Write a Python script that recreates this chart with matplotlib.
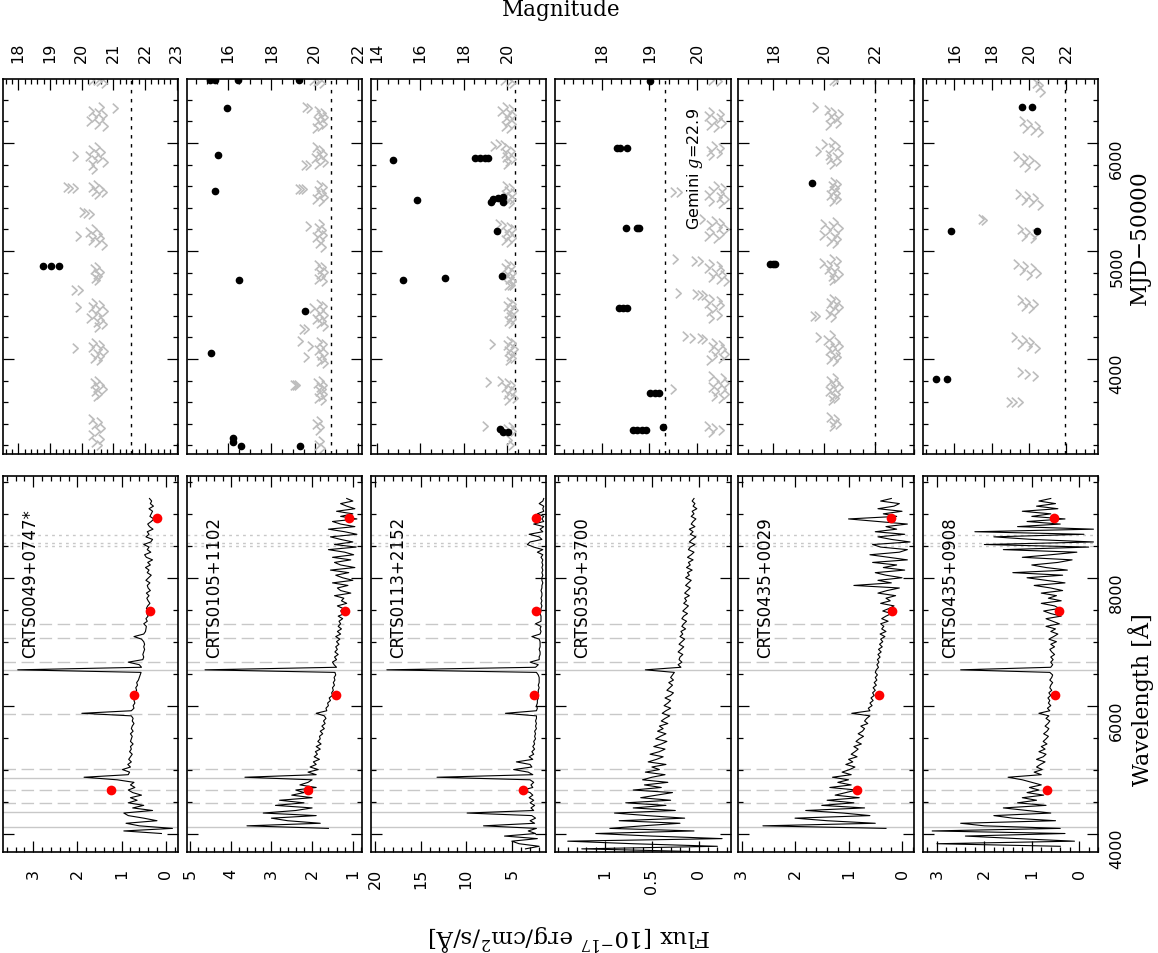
import numpy as np
import matplotlib.pyplot as plt
from matplotlib.path import Path
from matplotlib.ticker import MultipleLocator, FixedLocator, FuncFormatter

plt.rcParams['mathtext.fontset'] = 'dejavuserif'

W, H = 1158, 954

names = ["CRTS0049+0747*", "CRTS0105+1102", "CRTS0113+2152",
         "CRTS0350+3700", "CRTS0435+0029", "CRTS0435+0908"]

# ---- spectra (flux in 1e-17 erg/cm2/s/A), sampled every 40 A from 3720 A
wave = np.arange(3720, 9281, 40)
nan = np.nan

flux1 = [nan, nan, nan, nan, nan, nan, nan, 0.1, 0.95, -0.15,
         0.6, 0.9, 0.2, 0.5, 0.85, 0.95, 0.3, 0.75, 0.5, 0.85,
         0.65, 0.8, 0.55, 0.75, 0.85, 0.7, 0.8, 0.72, 1.1, 1.85,
         0.85, 0.82, 0.98, 0.8, 0.86, 0.78, 0.84, 0.8, 0.76, 0.82,
         0.78, 0.8, 0.74, 0.8, 0.78, 0.76, 0.8, 0.74, 0.78, 0.76,
         0.72, 0.76, 0.74, 0.78, 1.9, 0.78, 0.72, 0.74, 0.7, 0.72,
         0.68, 0.72, 0.7, 0.66, 0.68, 0.64, 0.66, 0.62, 0.6, 0.58,
         0.56, 3.35, 0.55, 0.6, 0.85, 0.52, 0.5, 0.52, 0.5, 0.48,
         0.5, 0.48, 0.5, 0.55, 0.72, 0.5, 0.46, 0.45, 0.44, 0.5,
         0.42, 0.45, 0.4, 0.43, 0.38, 0.44, 0.41, 0.36, 0.4, 0.43,
         0.38, 0.44, 0.35, 0.4, 0.42, 0.36, 0.45, 0.39, 0.33, 0.42,
         0.38, 0.46, 0.35, 0.41, 0.3, 0.44, 0.48, 0.34, 0.42, 0.38,
         0.5, 0.34, 0.3, 0.45, 0.38, 0.42, 0.29, 0.37, 0.41, 0.33,
         0.27, 0.36, 0.33, 0.3, 0.38, 0.28, 0.35, 0.32, 0.37, nan]

flux2 = [nan, nan, nan, nan, nan, nan, nan, nan, nan, 1.6,
         3.6, 1.8, 2.6, 3.0, 1.9, 3.2, 2.4, 2.0, 2.9, 2.2,
         2.8, 2.0, 2.5, 2.2, 2.4, 1.9, 2.3, 2.1, 2.0, 3.65,
         1.9, 2.1, 1.85, 2.05, 1.9, 1.97, 1.82, 1.95, 1.87, 1.92,
         1.8, 1.9, 1.78, 1.86, 1.8, 1.82, 1.74, 1.8, 1.7, 1.76,
         1.68, 1.72, 1.66, 1.7, 1.9, 1.64, 1.66, 1.6, 1.62, 1.55,
         1.58, 1.5, 1.52, 1.48, 1.5, 1.45, 1.48, 1.44, 1.46, 1.42,
         1.44, 4.63, 1.4, 1.46, 1.5, 1.4, 1.45, 1.36, 1.44, 1.38,
         1.42, 1.34, 1.4, 1.32, 1.42, 1.3, 1.38, 1.28, 1.36, 1.3,
         1.34, 1.25, 1.36, 1.2, 1.3, 1.24, 1.38, 1.15, 1.28, 1.22,
         1.45, 1.05, 1.3, 1.38, 1.12, 1.5, 1.0, 1.25, 1.42, 1.1,
         1.55, 0.95, 1.3, 1.45, 1.05, 1.5, 0.98, 1.2, 1.6, 0.92,
         1.45, 1.0, 1.3, 1.55, 0.9, 1.2, 1.6, 0.95, 1.3, 1.5,
         0.9, 1.3, 1.0, 1.4, 0.95, 1.15, 1.3, 1.0, 1.15, nan]

flux3 = [nan, 3.5, 2.0, 4.2, 5.0, 2.2, 5.8, 2.4, 3.2, 2.3,
         8.1, 2.5, 3.0, 2.4, 2.8, 9.9, 2.6, 2.9, 2.5, 3.0,
         2.6, 3.1, 2.7, 3.0, 3.8, 2.7, 2.9, 2.6, 3.0, 13.2,
         2.7, 3.2, 4.8, 2.8, 3.0, 4.5, 2.7, 3.1, 2.6, 2.8,
         2.5, 2.7, 2.5, 2.6, 2.4, 2.5, 2.4, 2.5, 2.3, 2.4,
         2.3, 2.4, 2.3, 2.3, 5.7, 2.3, 2.2, 2.3, 2.2, 2.2,
         2.1, 2.2, 2.1, 2.1, 2.0, 2.1, 2.0, 2.0, 2.0, 2.1,
         2.3, 18.7, 2.4, 2.1, 3.0, 2.0, 2.0, 1.9, 1.9, 2.0,
         1.9, 1.9, 1.9, 2.0, 2.8, 1.9, 1.8, 1.9, 1.8, 2.4,
         1.8, 1.8, 1.8, 1.9, 1.8, 1.8, 1.7, 1.8, 1.7, 1.8,
         1.7, 1.7, 1.8, 1.7, 1.7, 1.6, 1.7, 1.7, 1.6, 1.7,
         1.6, 1.7, 1.6, 1.7, 1.6, 1.8, 1.6, 2.2, 1.6, 2.6,
         3.3, 3.0, 1.7, 2.0, 3.1, 1.6, 1.9, 1.5, 2.6, 1.5,
         1.7, 1.5, 2.2, 1.5, 1.6, 1.5, 2.0, 1.6, 1.5, nan]

flux4 = [0.1, 1.25, -0.2, 0.7, 1.4, -0.25, 0.5, 1.1, 0.05, 0.95,
         0.6, 0.2, 0.85, 0.15, 0.55, 0.9, 0.25, 0.7, 0.35, 0.78,
         0.3, 0.62, 0.45, 0.28, 0.7, 0.4, 0.58, 0.33, 0.6, 0.5,
         0.36, 0.57, 0.42, 0.5, 0.35, 0.54, 0.45, 0.38, 0.52, 0.42,
         0.36, 0.48, 0.4, 0.34, 0.46, 0.41, 0.35, 0.44, 0.38, 0.42,
         0.33, 0.4, 0.36, 0.31, 0.39, 0.35, 0.3, 0.37, 0.33, 0.3,
         0.36, 0.3, 0.27, 0.34, 0.31, 0.28, 0.32, 0.27, 0.3, 0.28,
         0.26, 0.57, 0.19, 0.22, 0.18, 0.21, 0.2, 0.17, 0.22, 0.19,
         0.16, 0.21, 0.18, 0.15, 0.2, 0.17, 0.19, 0.14, 0.18, 0.16,
         0.13, 0.18, 0.16, 0.12, 0.17, 0.14, 0.11, 0.16, 0.13, 0.15,
         0.1, 0.15, 0.12, 0.09, 0.14, 0.11, 0.08, 0.14, 0.1, 0.12,
         0.07, 0.13, 0.09, 0.11, 0.06, 0.12, 0.08, 0.05, 0.11, 0.09,
         0.04, 0.1, 0.07, 0.03, 0.09, 0.06, 0.1, 0.04, 0.08, 0.06,
         0.03, 0.08, 0.05, 0.07, 0.02, 0.06, 0.04, 0.07, 0.05, nan]

flux5 = [nan, nan, nan, nan, nan, nan, nan, nan, nan, 0.3,
         2.6, 0.5, 1.4, 2.0, 0.6, 1.1, 1.8, 0.7, 1.5, 0.9,
         1.4, 0.8, 1.25, 1.05, 0.85, 1.35, 0.95, 1.2, 1.0, 1.3,
         0.95, 1.12, 0.98, 0.88, 1.05, 0.92, 1.0, 0.84, 0.95, 0.88,
         0.82, 0.9, 0.76, 0.86, 0.8, 0.72, 0.82, 0.74, 0.7, 0.77,
         0.64, 0.7, 0.66, 0.6, 0.94, 0.6, 0.63, 0.56, 0.6, 0.54,
         0.58, 0.52, 0.55, 0.5, 0.54, 0.48, 0.52, 0.47, 0.5, 0.46,
         0.5, 0.48, 0.44, 0.47, 0.43, 0.46, 0.41, 0.45, 0.39, 0.44,
         0.37, 0.42, 0.36, 0.4, 0.32, 0.41, 0.3, 0.38, 0.34, 0.4,
         0.26, 0.38, 0.3, 0.2, 0.36, 0.24, 0.15, 0.4, 0.22, 0.3,
         0.12, 0.45, 0.28, 0.05, 0.9, 0.2, 0.45, 0.0, 0.3, 0.5,
         -0.05, 0.35, 0.1, 0.55, -0.1, 0.25, 0.6, 0.05, -0.1, 0.4,
         0.55, -0.15, 0.2, 0.45, -0.05, 0.5, 0.1, 0.3, -0.1, 0.45,
         1.0, 0.1, 0.35, 0.0, 0.45, 0.15, 0.05, 0.4, 0.2, nan]

flux6 = [nan, nan, 0.4, 3.0, 0.1, 1.3, 2.4, 0.3, 3.1, 0.4,
         2.0, 2.5, 0.5, 1.4, 1.8, 0.6, 1.1, 1.6, 0.7, 1.3,
         0.9, 1.2, 0.75, 1.1, 0.85, 1.05, 0.8, 1.0, 1.2, 1.5,
         0.8, 0.95, 0.78, 0.9, 0.82, 0.72, 0.9, 0.76, 0.7, 0.85,
         0.72, 0.8, 0.68, 0.76, 0.7, 0.65, 0.75, 0.68, 0.64, 0.72,
         0.66, 0.62, 0.7, 0.64, 0.85, 0.62, 0.67, 0.6, 0.65, 0.62,
         0.66, 0.6, 0.64, 0.58, 0.62, 0.6, 0.56, 0.62, 0.58, 0.56,
         0.62, 2.5, 0.6, 0.56, 0.6, 0.55, 0.6, 0.52, 0.58, 0.62,
         0.52, 0.6, 0.48, 0.64, 0.54, 0.45, 0.6, 0.5, 0.7, 0.42,
         0.56, 0.7, 0.38, 0.6, 0.75, 0.42, 0.52, 0.8, 0.38, 0.65,
         0.48, 0.8, 0.35, 0.6, 0.95, 0.3, 0.7, 1.1, 0.35, 1.4,
         0.25, 0.7, 1.0, 0.45, 0.15, 1.2, 0.6, 0.05, 1.6, -0.2,
         2.0, -0.3, 1.0, 1.8, -0.1, 2.2, -0.3, 1.3, 0.4, 1.1,
         0.3, 1.0, 0.6, 1.2, 0.45, 0.9, 0.5, 0.85, 0.6, nan]

# SDSS g r i z photometry converted to flux
phot_wave = [4686, 6166, 7480, 8932]
phot1 = [1.23, 0.72, 0.36, 0.2]
phot2 = [2.1, 1.41, 1.2, 1.1]
phot3 = [3.72, 2.62, 2.36, 2.3]
phot4 = []
phot5 = [0.84, 0.43, 0.19, 0.21]
phot6 = [0.68, 0.51, 0.42, 0.53]

balmer = [4102, 4340, 4861, 6563]
helium = [4471, 4686, 5015, 5876, 6678, 7065, 7281]
calcium = [8498, 8542, 8662]

# ---- CRTS light curves (MJD-50000, mag)
det1_mjd = [4864, 4864, 4864]
det1_mag = [18.79, 19.05, 19.29]
lim1_mjd = [6585, 6575, 6560, 6580,
            6330, 6300, 6280, 6260, 6240, 6220, 6200, 6180, 6160, 6320,
            5960, 5940, 5920, 5900, 5880, 5860, 5840, 5820, 5800, 5880, 5760,
            5610, 5590, 5575, 5560, 5545, 5530, 5590, 5585, 5580, 5360, 5350, 5345,
            5200, 5180, 5160, 5140, 5120, 5100, 5080, 5060, 5140,
            4850, 4830, 4810, 4790, 4770, 4750, 4730, 4640, 4635,
            4520, 4500, 4480, 4460, 4440, 4420, 4400, 4380, 4360, 4340, 4320, 4480, 4300,
            4150, 4130, 4110, 4090, 4070, 4050, 4030, 4010, 3990, 4100,
            3800, 3780, 3760, 3740, 3720, 3700, 3680, 3660,
            3440, 3420, 3400, 3360, 3330, 3300, 3260, 3230, 3200]
lim1_mag = [20.3, 20.55, 20.7, 20.45,
            20.6, 20.3, 20.5, 20.7, 20.4, 20.6, 20.25, 20.5, 20.75, 21.05,
            20.5, 20.3, 20.65, 20.45, 20.2, 20.55, 20.4, 20.75, 20.3, 19.8, 20.4,
            20.45, 20.3, 20.6, 20.4, 20.7, 20.5, 19.5, 19.65, 19.8, 20.0, 20.15, 20.3,
            20.4, 20.2, 20.55, 20.35, 20.6, 20.3, 20.5, 20.7, 19.9,
            20.5, 20.35, 20.6, 20.45, 20.55, 20.4, 20.5, 19.75, 19.95,
            20.4, 20.6, 20.3, 20.5, 20.75, 20.4, 20.55, 20.25, 20.6, 20.45, 20.7, 19.9, 20.5,
            20.4, 20.6, 20.3, 20.55, 20.75, 20.45, 20.6, 20.35, 20.55, 19.8,
            20.5, 20.35, 20.6, 20.45, 20.7, 20.4, 20.55, 20.45,
            20.3, 20.55, 20.4, 20.65, 20.5, 20.3, 20.6, 20.4, 20.55]

det2_mjd = [6585, 6585, 6585, 6585, 6324, 5889, 5559, 4731, 4441, 4056, 3265, 3234, 3192, 3197]
det2_mag = [15.15, 15.38, 16.46, 19.26, 15.93, 15.54, 15.38, 16.51, 19.54, 15.19, 16.23, 16.23, 16.6, 19.3]
lim2_mjd = [6588, 6580, 6570, 6560,
            6330, 6320, 6300, 6280, 6260, 6240, 6220, 6200, 6180, 6160, 6140,
            5960, 5940, 5920, 5900, 5880, 5860, 5840, 5820, 5800, 5800, 5810,
            5610, 5590, 5570, 5570, 5570, 5560, 5540, 5520, 5500, 5480, 5460,
            5250, 5230, 5210, 5190, 5170, 5150, 5130, 5100, 5070, 5040,
            4870, 4850, 4830, 4810, 4790, 4770, 4740, 4720,
            4510, 4490, 4470, 4450, 4430, 4410, 4390, 4370, 4350, 4330, 4310, 4280, 4280,
            4170, 4160, 4140, 4120, 4100, 4080, 4060, 4040, 4020, 4000, 3980, 3960,
            3800, 3780, 3760, 3755, 3755, 3755, 3740, 3720, 3700, 3680, 3660, 3640, 3620,
            3430, 3400, 3370, 3340, 3240, 3200, 3180]
lim2_mag = [19.9, 20.2, 20.05, 20.35,
            19.55, 19.75, 20.1, 20.4, 20.2, 20.5, 20.3, 20.05, 20.45, 20.25, 20.0,
            20.0, 20.3, 20.15, 20.45, 20.2, 19.95, 20.35, 20.5, 19.5, 19.7, 20.1,
            20.2, 20.45, 19.22, 19.35, 19.5, 20.1, 20.4, 20.2, 20.5, 20.0, 20.3,
            20.3, 19.7, 20.1, 20.4, 20.2, 20.45, 20.0, 20.3, 20.15, 20.4,
            20.1, 20.4, 20.25, 20.5, 20.2, 20.35, 20.1, 20.45,
            20.2, 20.45, 19.9, 20.3, 20.1, 20.5, 20.25, 20.0, 20.4, 20.2, 20.5, 19.4, 19.6,
            19.3, 20.2, 20.45, 19.8, 20.3, 20.1, 20.5, 20.25, 19.6, 20.4, 20.2, 20.5,
            20.3, 20.05, 20.45, 18.98, 19.1, 19.2, 20.2, 20.4, 20.15, 20.45, 20.3, 20.1, 20.4,
            20.2, 20.0, 20.3, 20.15, 20.3, 20.1, 20.35]

det3_mjd = [5845, 5858, 5858, 5858, 5858, 5475, 5457, 5481, 5490, 5500, 5457, 5182,
            4731, 4747, 4766, 3352, 3327, 3321]
det3_mag = [14.77, 18.54, 18.77, 19.0, 19.15, 15.87, 19.27, 19.38, 19.61, 19.81, 19.84, 19.54,
            15.2, 17.15, 19.77, 19.69, 19.81, 20.07]
lim3_mjd = [6585, 6575, 6560,
            6335, 6315, 6300, 6280, 6260, 6240, 6220, 6200, 6180, 6160, 6140,
            5990, 5980, 5970, 5950, 5930, 5910, 5890, 5870, 5850, 5830, 5810,
            5600, 5580, 5560, 5540, 5520, 5500, 5480, 5460, 5440,
            5250, 5240, 5220, 5200, 5180, 5160, 5140, 5120, 5100, 5080,
            4880, 4860, 4840, 4820, 4800, 4780, 4760, 4740, 4720, 4685, 4685, 4685,
            4530, 4510, 4490, 4470, 4450, 4430, 4410, 4390, 4370, 4350, 4330,
            4170, 4150, 4140, 4130, 4110, 4090, 4070, 4050, 4030, 4010, 3990,
            3800, 3790, 3780, 3760, 3740, 3720, 3700, 3680, 3660, 3640, 3620,
            3380, 3370, 3350, 3330, 3250, 3200]
lim3_mag = [19.8, 20.1, 20.25,
            19.9, 20.2, 19.7, 20.05, 20.3, 19.9, 20.15, 20.0, 20.3, 19.85, 20.1,
            19.6, 19.8, 19.35, 20.0, 20.25, 19.85, 20.1, 19.9, 20.3, 20.05, 19.95,
            19.9, 20.2, 20.0, 20.3, 19.85, 20.1, 20.25, 19.95, 20.2,
            19.6, 19.8, 20.1, 20.3, 19.9, 20.15, 20.0, 20.3, 19.85, 20.1,
            20.0, 20.25, 19.85, 20.1, 20.3, 19.95, 20.2, 20.05, 20.3, 20.0, 20.12, 20.24,
            20.1, 20.3, 19.95, 20.2, 20.35, 20.05, 20.25, 20.1, 20.3, 20.0, 20.2,
            20.1, 20.3, 19.3, 19.95, 20.2, 20.35, 20.0, 20.25, 20.1, 20.3, 20.05,
            19.7, 19.15, 20.0, 20.25, 19.85, 20.1, 20.3, 19.95, 20.2, 20.35, 20.0,
            19.0, 20.2, 19.95, 20.3, 20.1, 20.2]

det4_mjd = [6577, 5954, 5954, 5954, 5210, 5210, 5210, 4472, 4472, 4472,
            3685, 3685, 3685, 3346, 3346, 3346, 3346, 3368]
det4_mag = [19.02, 18.32, 18.39, 18.54, 18.51, 18.74, 18.79, 18.37, 18.45, 18.54,
            19.02, 19.12, 19.21, 18.65, 18.74, 18.84, 18.93, 19.28]
lim4_mjd = [6580, 6575,
            6290, 6270, 6250, 6230, 6210, 6190, 6170, 6150,
            5970, 5950, 5930, 5910, 5890,
            5600, 5580, 5545, 5545, 5560, 5540, 5520, 5500, 5480, 5460, 5440,
            5300, 5280, 5260, 5240, 5220, 5200, 5180, 5160, 5140, 5120,
            4925, 4910, 4905, 4880, 4860, 4840, 4820, 4800, 4780, 4760, 4740, 4720,
            4610, 4600, 4595, 4590, 4560, 4540, 4520, 4500, 4470, 4440, 4410, 4380,
            4210, 4195, 4190, 4185, 4150, 4130, 4110, 4090, 4070, 4050, 4030, 4010, 3990,
            3840, 3820, 3800, 3780, 3760, 3740, 3722, 3720, 3700, 3680, 3660, 3640,
            3380, 3360, 3340, 3320]
lim4_mag = [20.3, 20.45,
            20.3, 20.5, 20.2, 20.45, 20.35, 20.55, 20.25, 20.4,
            20.35, 20.5, 20.25, 20.45, 20.3,
            20.4, 20.55, 19.5, 19.62, 20.3, 20.5, 20.2, 20.45, 20.6, 20.3, 20.5,
            20.1, 20.35, 20.5, 20.25, 20.45, 20.6, 20.3, 20.5, 20.2, 20.4,
            19.53, 19.93, 20.05, 20.3, 20.45, 20.2, 20.5, 20.35, 20.55, 20.3, 20.45, 20.6,
            19.6, 19.95, 20.05, 20.15, 20.3, 20.45, 20.2, 20.5, 20.35, 20.25, 20.45, 20.3,
            19.75, 19.9, 20.05, 20.15, 20.35, 20.5, 20.3, 20.55, 20.4, 20.6, 20.35, 20.5, 20.25,
            20.3, 20.55, 20.4, 20.6, 20.45, 20.3, 19.5, 20.55, 20.4, 20.6, 20.35, 20.5,
            20.2, 20.35, 20.5, 20.3]

det5_mjd = [5627, 4880, 4880, 4880]
det5_mag = [19.51, 17.87, 17.99, 18.05]
lim5_mjd = [6580, 6575,
            6330, 6310, 6290, 6270, 6250, 6230, 6210, 6190, 6170,
            6010, 5990, 5970, 5950, 5930, 5910, 5890, 5870, 5850, 5830, 5810,
            5640, 5620, 5600, 5580, 5560, 5540, 5520, 5500, 5480, 5460,
            5270, 5250, 5230, 5210, 5190, 5170, 5150, 5130, 5110, 5090, 5070,
            4930, 4910, 4890, 4870, 4850, 4830, 4810, 4790, 4770, 4750, 4730,
            4560, 4540, 4520, 4500, 4480, 4460, 4440, 4420, 4401, 4401, 4390,
            4220, 4200, 4180, 4160, 4140, 4120, 4100, 4080, 4060, 4040, 4020, 4000, 3980,
            3820, 3800, 3780, 3760, 3740, 3720, 3700, 3680, 3660, 3640, 3620,
            3460, 3440, 3420, 3400, 3380]
lim5_mag = [20.3, 20.42,
            19.65, 20.1, 20.35, 20.6, 20.2, 20.45, 20.3, 20.55, 20.15,
            20.3, 20.0, 20.5, 20.25, 19.75, 20.6, 20.15, 20.4, 20.2, 20.55, 20.3,
            20.35, 20.55, 20.25, 20.45, 20.3, 20.5, 20.2, 20.4, 20.55, 20.3,
            20.4, 19.95, 20.25, 20.6, 20.15, 20.45, 19.9, 20.35, 20.55, 20.2, 20.4,
            20.3, 20.55, 19.9, 20.2, 20.45, 20.1, 20.35, 20.6, 20.25, 20.45, 20.3,
            20.3, 20.5, 20.2, 20.4, 20.6, 20.25, 20.45, 20.15, 19.55, 19.7, 20.35,
            20.3, 19.75, 20.05, 20.5, 20.25, 20.6, 20.35, 20.15, 20.5, 20.3, 20.55, 20.2, 20.4,
            20.4, 20.2, 20.5, 20.3, 20.6, 20.35, 20.15, 20.5, 20.3, 20.45, 20.25,
            20.2, 20.45, 20.35, 20.55, 20.3]

det6_mjd = [6333, 6333, 5185, 5185, 3815, 3815]
det6_mag = [19.6, 20.18, 15.84, 20.4, 15.0, 15.58]
lim6_mjd = [6560, 6540, 6520, 6470,
            6200, 6180, 6160, 6140, 6120, 6100,
            5880, 5860, 5840, 5820, 5800, 5780,
            5530, 5510, 5490, 5470, 5450, 5430,
            5300, 5290, 5200, 5180, 5160, 5140, 5120,
            4880, 4860, 4840, 4820, 4800, 4780,
            4550, 4530, 4510, 4490, 4470,
            4200, 4180, 4160, 4140, 4120, 4100,
            3880, 3860, 3840,
            3600, 3600, 3600]
lim6_mag = [20.3, 20.6, 20.45, 20.7,
            19.6, 20.0, 20.4, 19.8, 20.2, 20.6,
            19.3, 19.8, 20.1, 19.6, 20.4, 19.9,
            19.4, 19.9, 20.3, 19.7, 20.1, 20.6,
            17.4, 17.6, 19.5, 19.9, 20.3, 19.7, 20.2,
            19.3, 19.8, 20.2, 19.6, 20.5, 20.0,
            19.5, 19.9, 20.3, 19.7, 20.1,
            19.2, 19.7, 20.1, 19.5, 20.0, 20.4,
            19.5, 19.9, 20.3,
            18.9, 19.2, 19.5]

mag_limit = [21.56, 20.77, 20.38, 19.33, 21.97, 21.9]

fluxes = [flux1, flux2, flux3, flux4, flux5, flux6]
phots = [phot1, phot2, phot3, phot4, phot5, phot6]
dets = [(det1_mjd, det1_mag), (det2_mjd, det2_mag), (det3_mjd, det3_mag),
        (det4_mjd, det4_mag), (det5_mjd, det5_mag), (det6_mjd, det6_mag)]
lims = [(lim1_mjd, lim1_mag), (lim2_mjd, lim2_mag), (lim3_mjd, lim3_mag),
        (lim4_mjd, lim4_mag), (lim5_mjd, lim5_mag), (lim6_mjd, lim6_mag)]

# axis ranges (flux and magnitude axes are per panel)
flux_lim = [(3.69, -0.28), (5.08, 0.77), (20.47, 1.23), (1.536, -0.34), (3.06, -0.22), (3.3, -0.4)]
flux_major = [[0, 1, 2, 3], [1, 2, 3, 4, 5], [5, 10, 15, 20], [0, 0.5, 1], [0, 1, 2, 3], [0, 1, 2, 3]]
flux_minor = [0.2, 0.2, 1, 0.1, 0.2, 0.2]
mag_lim = [(17.51, 23.05), (14.08, 22.2), (13.72, 21.81), (17.02, 20.7), (16.62, 23.51), (14.3, 23.7)]
mag_tick = [(1, 0.2), (2, 0.5), (2, 0.5), (1, 0.2), (2, 0.5), (2, 0.5)]

# ---- layout: the page is drawn rotated by 90 degrees
col_x0 = [2.7, 186.7, 370.7, 555.0, 738.3, 922.7]
col_w = 175.5
lc_top, lc_bot = 80, 455
sp_top, sp_bot = 477.3, 853.3

chevron = Path([(-0.55, 1.0), (0.55, 0.0), (-0.55, -1.0)],
               [Path.MOVETO, Path.LINETO, Path.LINETO])
plain = FuncFormatter(lambda v, p: '%g' % (v + 0.0))

fig = plt.figure(figsize=(W / 100, H / 100), dpi=100)


def add_ax(x0, top, bot):
    return fig.add_axes([x0 / W, 1 - bot / H, col_w / W, (bot - top) / H])


def style(ax):
    for s in ax.spines.values():
        s.set_linewidth(1.2)
    ax.tick_params(which='both', direction='in', top=True, bottom=True,
                   left=True, right=True, width=0.9, labelsize=11.5)
    ax.tick_params(which='major', length=8)
    ax.tick_params(which='minor', length=3.8)
    ax.tick_params(axis='x', labelrotation=90)
    ax.tick_params(axis='y', labelrotation=90)
    ax.xaxis.set_major_formatter(plain)
    ax.yaxis.set_major_formatter(plain)


for k in range(6):
    last = (k == 5)

    # spectrum panel
    ax = add_ax(col_x0[k], sp_top, sp_bot)
    style(ax)
    for lw in balmer:
        ax.axhline(lw, color='#c8c8c8', lw=1.0, zorder=1)
    for lw in helium:
        ax.axhline(lw, color='#c8c8c8', lw=1.0, ls=(0, (9, 4)), zorder=1)
    for lw in calcium:
        ax.axhline(lw, color='#c8c8c8', lw=1.0, ls=(0, (2, 3)), zorder=1)
    ax.plot(fluxes[k], wave, color='black', lw=0.8, zorder=2)
    if phots[k]:
        ax.plot(phots[k], phot_wave, 'o', color='red', ms=7, mec='none', zorder=3)
    ax.set_xlim(*flux_lim[k])
    ax.set_ylim(3706, 9587)
    ax.xaxis.set_major_locator(FixedLocator(flux_major[k]))
    ax.xaxis.set_minor_locator(MultipleLocator(flux_minor[k]))
    ax.yaxis.set_major_locator(MultipleLocator(2000))
    ax.yaxis.set_minor_locator(MultipleLocator(500))
    ax.tick_params(axis='x', labelbottom=True, labeltop=False, pad=11)
    ax.tick_params(axis='y', labelleft=False, labelright=last, pad=8)
    ax.text(0.155, 0.519, names[k], transform=ax.transAxes, rotation=90,
            ha='center', va='bottom', fontsize=12, family='DejaVu Sans')

    # light curve panel
    lc = add_ax(col_x0[k], lc_top, lc_bot)
    style(lc)
    lc.axvline(mag_limit[k], color='black', lw=1.0, ls=(0, (2.5, 4)), zorder=1)
    lc.plot(lims[k][1], lims[k][0], ls='none', marker=chevron, ms=7,
            mfc='none', mec='#bdbdbd', mew=1.2, zorder=2)
    lc.plot(dets[k][1], dets[k][0], 'o', color='black', ms=4.5, zorder=3)
    lc.set_xlim(*mag_lim[k])
    lc.set_ylim(3120, 6593)
    lc.xaxis.set_major_locator(MultipleLocator(mag_tick[k][0]))
    lc.xaxis.set_minor_locator(MultipleLocator(mag_tick[k][1]))
    lc.yaxis.set_major_locator(MultipleLocator(1000))
    lc.yaxis.set_minor_locator(MultipleLocator(200))
    lc.tick_params(axis='x', labeltop=True, labelbottom=False, pad=12)
    lc.tick_params(axis='y', labelleft=False, labelright=last, pad=8)
    if k == 3:
        lc.text(0.8, 0.6, 'Gemini $g$=22.9', transform=lc.transAxes, rotation=90,
                ha='center', va='bottom', fontsize=11.5, family='DejaVu Sans')

serif = 'DejaVu Serif'
fig.text(561 / W, 1 - 10 / H, 'Magnitude', ha='center', va='center',
         fontsize=15.5, family=serif)
fig.text(570 / W, 1 - 937 / H, 'Flux [10$^{-17}$ erg/cm$^2$/s/Å]', rotation=180,
         ha='center', va='center', fontsize=16.5, family=serif)
fig.text(1141 / W, 1 - 700 / H, 'Wavelength [Å]', rotation=90,
         ha='center', va='center', fontsize=16, family=serif)
fig.text(1141 / W, 1 - 240 / H, 'MJD$-$50000', rotation=90,
         ha='center', va='center', fontsize=15.5, family=serif)

fig.savefig('out.png', dpi=100)
